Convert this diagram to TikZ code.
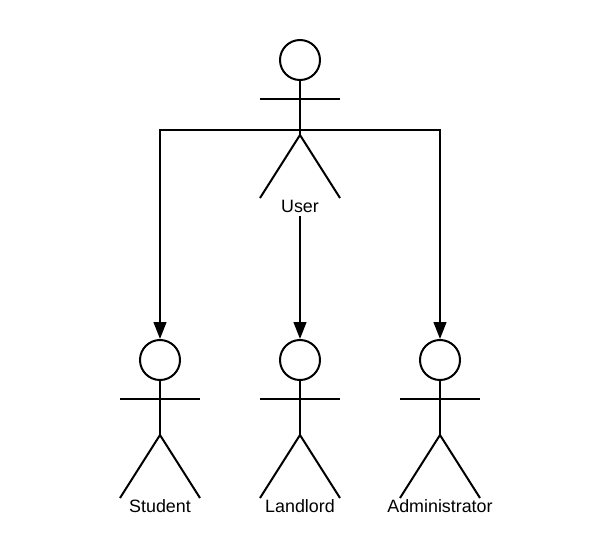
\documentclass[tikz,border=0pt]{standalone}
\usepackage{fontspec}
\setmainfont{Liberation Sans}
\usetikzlibrary{arrows.meta}
\tikzset{
    limb/.style={line width=1.42pt},
    link/.style={line width=1.42pt,-{Triangle[length=12pt,width=9pt]}},
    head/.style={circle,draw,line width=1.42pt,minimum size=1cm,inner sep=0pt},
    caption/.style={font=\fontsize{12.7}{15}\selectfont,inner sep=0pt,outer sep=2.5pt}
}
% actor: name, x of the centre, y of the top of the head, text
\newcommand{\actorfig}[4]{
    \node[head](#1head)at(#2,#3+20){};
    \coordinate(#1arml)at(#2-40,#3+59);
    \coordinate(#1armr)at(#2+40,#3+59);
    \coordinate(#1hip)at(#2,#3+95);
    \coordinate(#1footl)at(#2-40,#3+158);
    \coordinate(#1footr)at(#2+40,#3+158);
    \draw[limb](#1head)--(#1hip);
    \draw[limb](#1arml)--(#1armr);
    \draw[limb](#1footl)--(#1hip)--(#1footr);
    \node[caption](#1text)at(#2,#3+166){#4};
}
\begin{document}
\begin{tikzpicture}[x=0.025cm,y=-0.025cm]
    \useasboundingbox(0,0)rectangle(600,560);
    \actorfig{user}{300}{40}{User}
    \actorfig{student}{160}{340}{Student}
    \actorfig{landlord}{300}{340}{Landlord}
    \actorfig{admin}{440}{340}{Administrator}
    \coordinate(branch)at(300,130);
    \draw[link](branch)-|(studenthead);
    \draw[link](branch)-|(adminhead);
    \draw[link](usertext)--(landlordhead);
\end{tikzpicture}
\end{document}
